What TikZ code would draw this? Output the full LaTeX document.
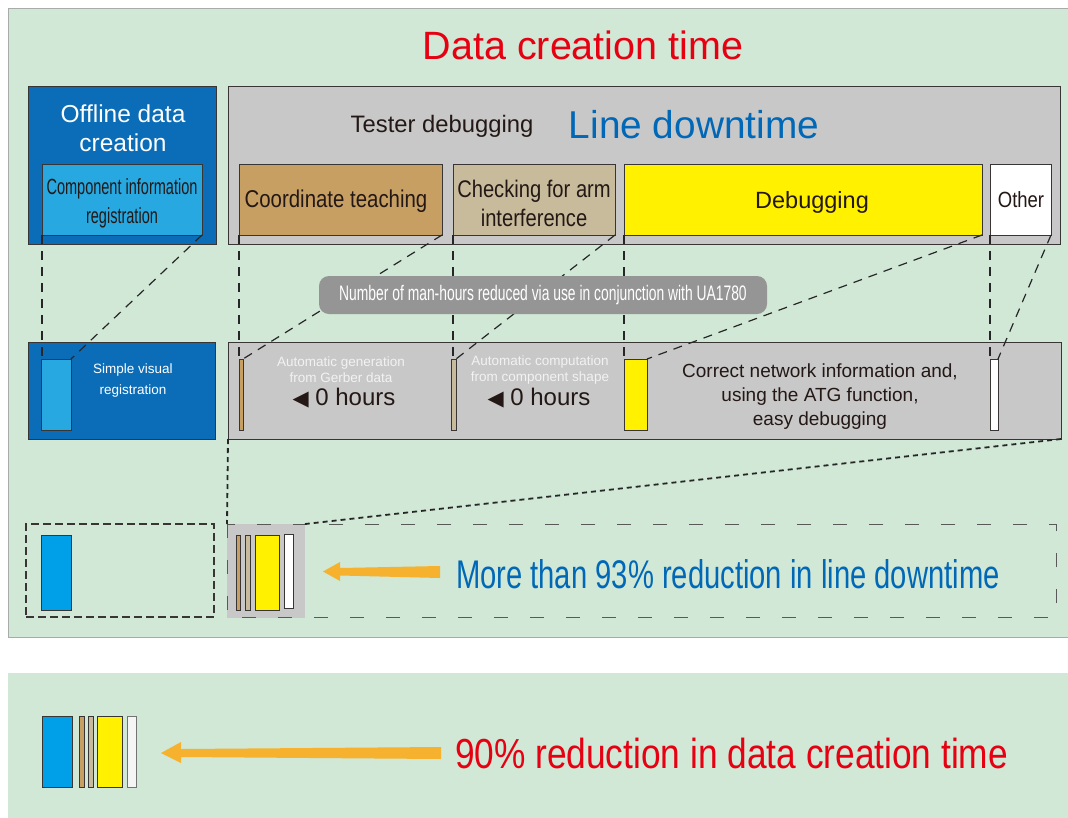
\documentclass[tikz,border=0pt]{standalone}
\usepackage{fontspec}
\setmainfont{Liberation Sans}
\newfontfamily\cnd[FakeStretch=0.84]{Liberation Sans}
\newfontfamily\ccnd[FakeStretch=0.66]{Liberation Sans}
\newfontfamily\bcnd[FakeStretch=0.73]{Liberation Sans}
\newfontfamily\rcnd[FakeStretch=0.84]{Liberation Sans}
\newfontfamily\dejavu{DejaVu Sans}
\newcommand\fsz[2]{\fontsize{#1}{#2}\selectfont}
\definecolor{bggreen}{HTML}{D0E8D5}
\definecolor{paneledge}{HTML}{A8ABA8}
\definecolor{edge}{HTML}{3A3535}
\definecolor{dblue}{HTML}{0B6DB7}
\definecolor{lblue}{HTML}{27A8E0}
\definecolor{bblue}{HTML}{00A0E8}
\definecolor{lgray}{HTML}{C8C8C8}
\definecolor{cgray}{HTML}{959595}
\definecolor{brownc}{HTML}{C89F63}
\definecolor{beige}{HTML}{C8BB9C}
\definecolor{yell}{HTML}{FFF100}
\definecolor{orng}{HTML}{F6B22F}
\definecolor{redt}{HTML}{E60012}
\definecolor{bluet}{HTML}{0068B7}
\definecolor{darkt}{HTML}{231815}
\begin{document}
\begin{tikzpicture}[x=1pt,y=-1pt,
  box/.style={draw=edge,line width=0.8pt,inner sep=0pt,outer sep=0pt,anchor=north west},
  plain/.style={inner sep=0pt,outer sep=0pt,anchor=north west},
  lbl/.style={inner sep=0pt,outer sep=0pt,align=center},
  guide/.style={draw=black!85,line width=1.2pt,dash pattern=on 9pt off 7pt},
  guide2/.style={draw=black!85,line width=1.8pt,dash pattern=on 5pt off 4pt},
  arrowfill/.style={fill=orng}]
\useasboundingbox (0,0) rectangle (1068,817);
\fill[white] (0,0) rectangle (1068,817);
% panels
\node[plain,fill=bggreen,draw=paneledge,line width=1pt,minimum width=1070pt,minimum height=629pt] (main) at (8,8) {};
\node[plain,fill=bggreen,minimum width=1070pt,minimum height=150pt] (lower) at (8,673) {};
% title
\node[lbl,text=redt,font=\fsz{39.5}{39}] (title) at (583,45) {Data creation time};
% top row
\node[box,fill=dblue,minimum width=188pt,minimum height=158pt] (offline) at (28,86) {};
\node[box,fill=lblue,minimum width=160pt,minimum height=71pt] (compinfo) at (42,164) {};
\node[lbl,text=white,font=\fsz{24.5}{29}] (offlinet) at (123,128) {Offline data\\creation};
\node[lbl,text=darkt,font=\ccnd\fsz{22}{29}] (compinfot) at ([yshift=-4pt]compinfo.center) {Component information\\registration};
\node[box,fill=lgray,minimum width=832pt,minimum height=158pt] (tester) at (228,86) {};
\node[lbl,text=darkt,font=\fsz{23.8}{24}] (testert) at (442,126) {Tester debugging};
\node[lbl,text=bluet,font=\fsz{38.8}{38}] (linet) at (694,125) {Line downtime};
\node[box,fill=brownc,minimum width=203pt,minimum height=71pt] (coord) at (239,164) {};
\node[box,fill=beige,minimum width=162pt,minimum height=71pt] (check) at (453,164) {};
\node[box,fill=yell,minimum width=358pt,minimum height=71pt] (debug) at (624,164) {};
\node[box,fill=white,minimum width=61pt,minimum height=71pt] (other) at (990,164) {};
\node[lbl,text=darkt,font=\cnd\fsz{24.3}{29}] (coordt) at (336,201) {Coordinate teaching};
\node[lbl,text=darkt,font=\cnd\fsz{24}{29}] (checkt) at (534,203) {Checking for arm\\interference};
\node[lbl,text=darkt,font=\fsz{23.5}{23}] (debugt) at (812,202) {Debugging};
\node[lbl,text=darkt,font=\cnd\fsz{22}{22}] (othert) at (1021,200) {Other};
% middle row
\node[box,fill=dblue,minimum width=187pt,minimum height=97pt] (midblue) at (28,342) {};
\node[box,fill=lblue,minimum width=30pt,minimum height=71pt] (midbar) at (41,359) {};
\node[lbl,text=white,font=\fsz{13.5}{21}] (simplet) at (133,381) {Simple visual\\registration};
\node[box,fill=lgray,minimum width=833pt,minimum height=97pt] (midgray) at (228,342) {};
\node[box,fill=brownc,minimum width=4pt,minimum height=71pt] (mb1) at (239,359) {};
\node[box,fill=beige,minimum width=5pt,minimum height=71pt] (mb2) at (451,359) {};
\node[box,fill=yell,minimum width=23pt,minimum height=71pt] (mb3) at (624,359) {};
\node[box,fill=white,minimum width=8pt,minimum height=71pt] (mb4) at (990,359) {};
\node[lbl,text=black!5,font=\fsz{13.5}{16}] (autogen) at (341,370) {Automatic generation\\from Gerber data};
\node[lbl,text=darkt,font=\fsz{24}{24}] (hours1) at (344,398) {{\dejavu\fsz{21}{21}◀} 0 hours};
\node[lbl,text=black!5,font=\fsz{13.5}{16}] (autocomp) at (540,370) {Automatic computation\\from component shape};
\node[lbl,text=darkt,font=\fsz{24}{24}] (hours2) at (539,398) {{\dejavu\fsz{21}{21}◀} 0 hours};
\node[lbl,text=darkt,font=\fsz{19}{24}] (correct) at (820,397) {Correct network information and,\\using the ATG function,\\easy debugging};
% guides
\draw[guide] (compinfo.south west) -- (compinfo.south west |- midbar.north);
\draw[guide] (compinfo.south east) -- (midbar.north east);
\draw[guide] (coord.south west) -- (coord.south west |- mb1.north);
\draw[guide] (coord.south east) -- (mb1.north east);
\draw[guide] (check.south west) -- (check.south west |- mb2.north);
\draw[guide] (check.south east) -- (mb2.north east);
\draw[guide] (debug.south west) -- (mb3.north west);
\draw[guide] (debug.south east) -- (mb3.north east);
\draw[guide] (other.south west) -- (other.south west |- mb4.north);
\draw[guide] (other.south east) -- (mb4.north east);
% callout
\node[plain,fill=cgray,rounded corners=10pt,minimum width=448pt,minimum height=38pt] (callout) at (319,276) {};
\node[lbl,text=white,font=\ccnd\fsz{21}{21}] (calloutt) at (callout.center) {Number of man-hours reduced via use in conjunction with UA1780};
% bottom row (main panel)
\node[plain,draw=edge,line width=2.2pt,dash pattern=on 8pt off 4pt,minimum width=188pt,minimum height=93pt] (leftdash) at (26,524) {};
\node[box,fill=bblue,minimum width=30pt,minimum height=75pt] (bb0) at (41,535) {};
\node[plain,fill=lgray,minimum width=78pt,minimum height=94pt] (smallgray) at (227,524) {};
\draw[draw=black!65,line width=1pt,dash pattern=on 14pt off 22pt] (smallgray.north west) rectangle (1056,617);
\node[box,fill=brownc,minimum width=4pt,minimum height=75pt] (bb1) at (236,535) {};
\node[box,fill=beige,minimum width=5pt,minimum height=75pt] (bb2) at (245,535) {};
\node[box,fill=yell,minimum width=24pt,minimum height=75pt] (bb3) at (255,535) {};
\node[box,fill=white,minimum width=9pt,minimum height=74pt] (bb4) at (284,534) {};
\draw[guide2] (midgray.south west) -- (smallgray.north west);
\draw[guide2] (midgray.south east) -- (smallgray.north east);
\fill[arrowfill] (440,566) -- (340,568) -- (340,562) -- (323,571.5) -- (340,581) -- (340,575.5) -- (440,578) -- cycle;
\node[lbl,text=bluet,font=\bcnd\fsz{40}{40},anchor=base west] (more) at (456,588) {More than 93\% reduction in line downtime};
% lower panel
\node[box,fill=bblue,minimum width=30pt,minimum height=71pt] (lb0) at (42,716) {};
\node[box,fill=brownc,minimum width=5pt,minimum height=71pt] (lb1) at (79,716) {};
\node[box,fill=beige,minimum width=5pt,minimum height=71pt] (lb2) at (88,716) {};
\node[box,fill=yell,minimum width=25pt,minimum height=71pt] (lb3) at (97,716) {};
\node[box,draw=black!55,fill=white!96!black,minimum width=9pt,minimum height=71pt] (lb4) at (127,716) {};
\fill[arrowfill] (441,747) -- (181,749) -- (181,742) -- (161,753) -- (181,763) -- (181,757) -- (441,759) -- cycle;
\node[lbl,text=redt,font=\rcnd\fsz{42}{42},anchor=base west] (ninety) at (455,768) {90\% reduction in data creation time};
\end{tikzpicture}
\end{document}
